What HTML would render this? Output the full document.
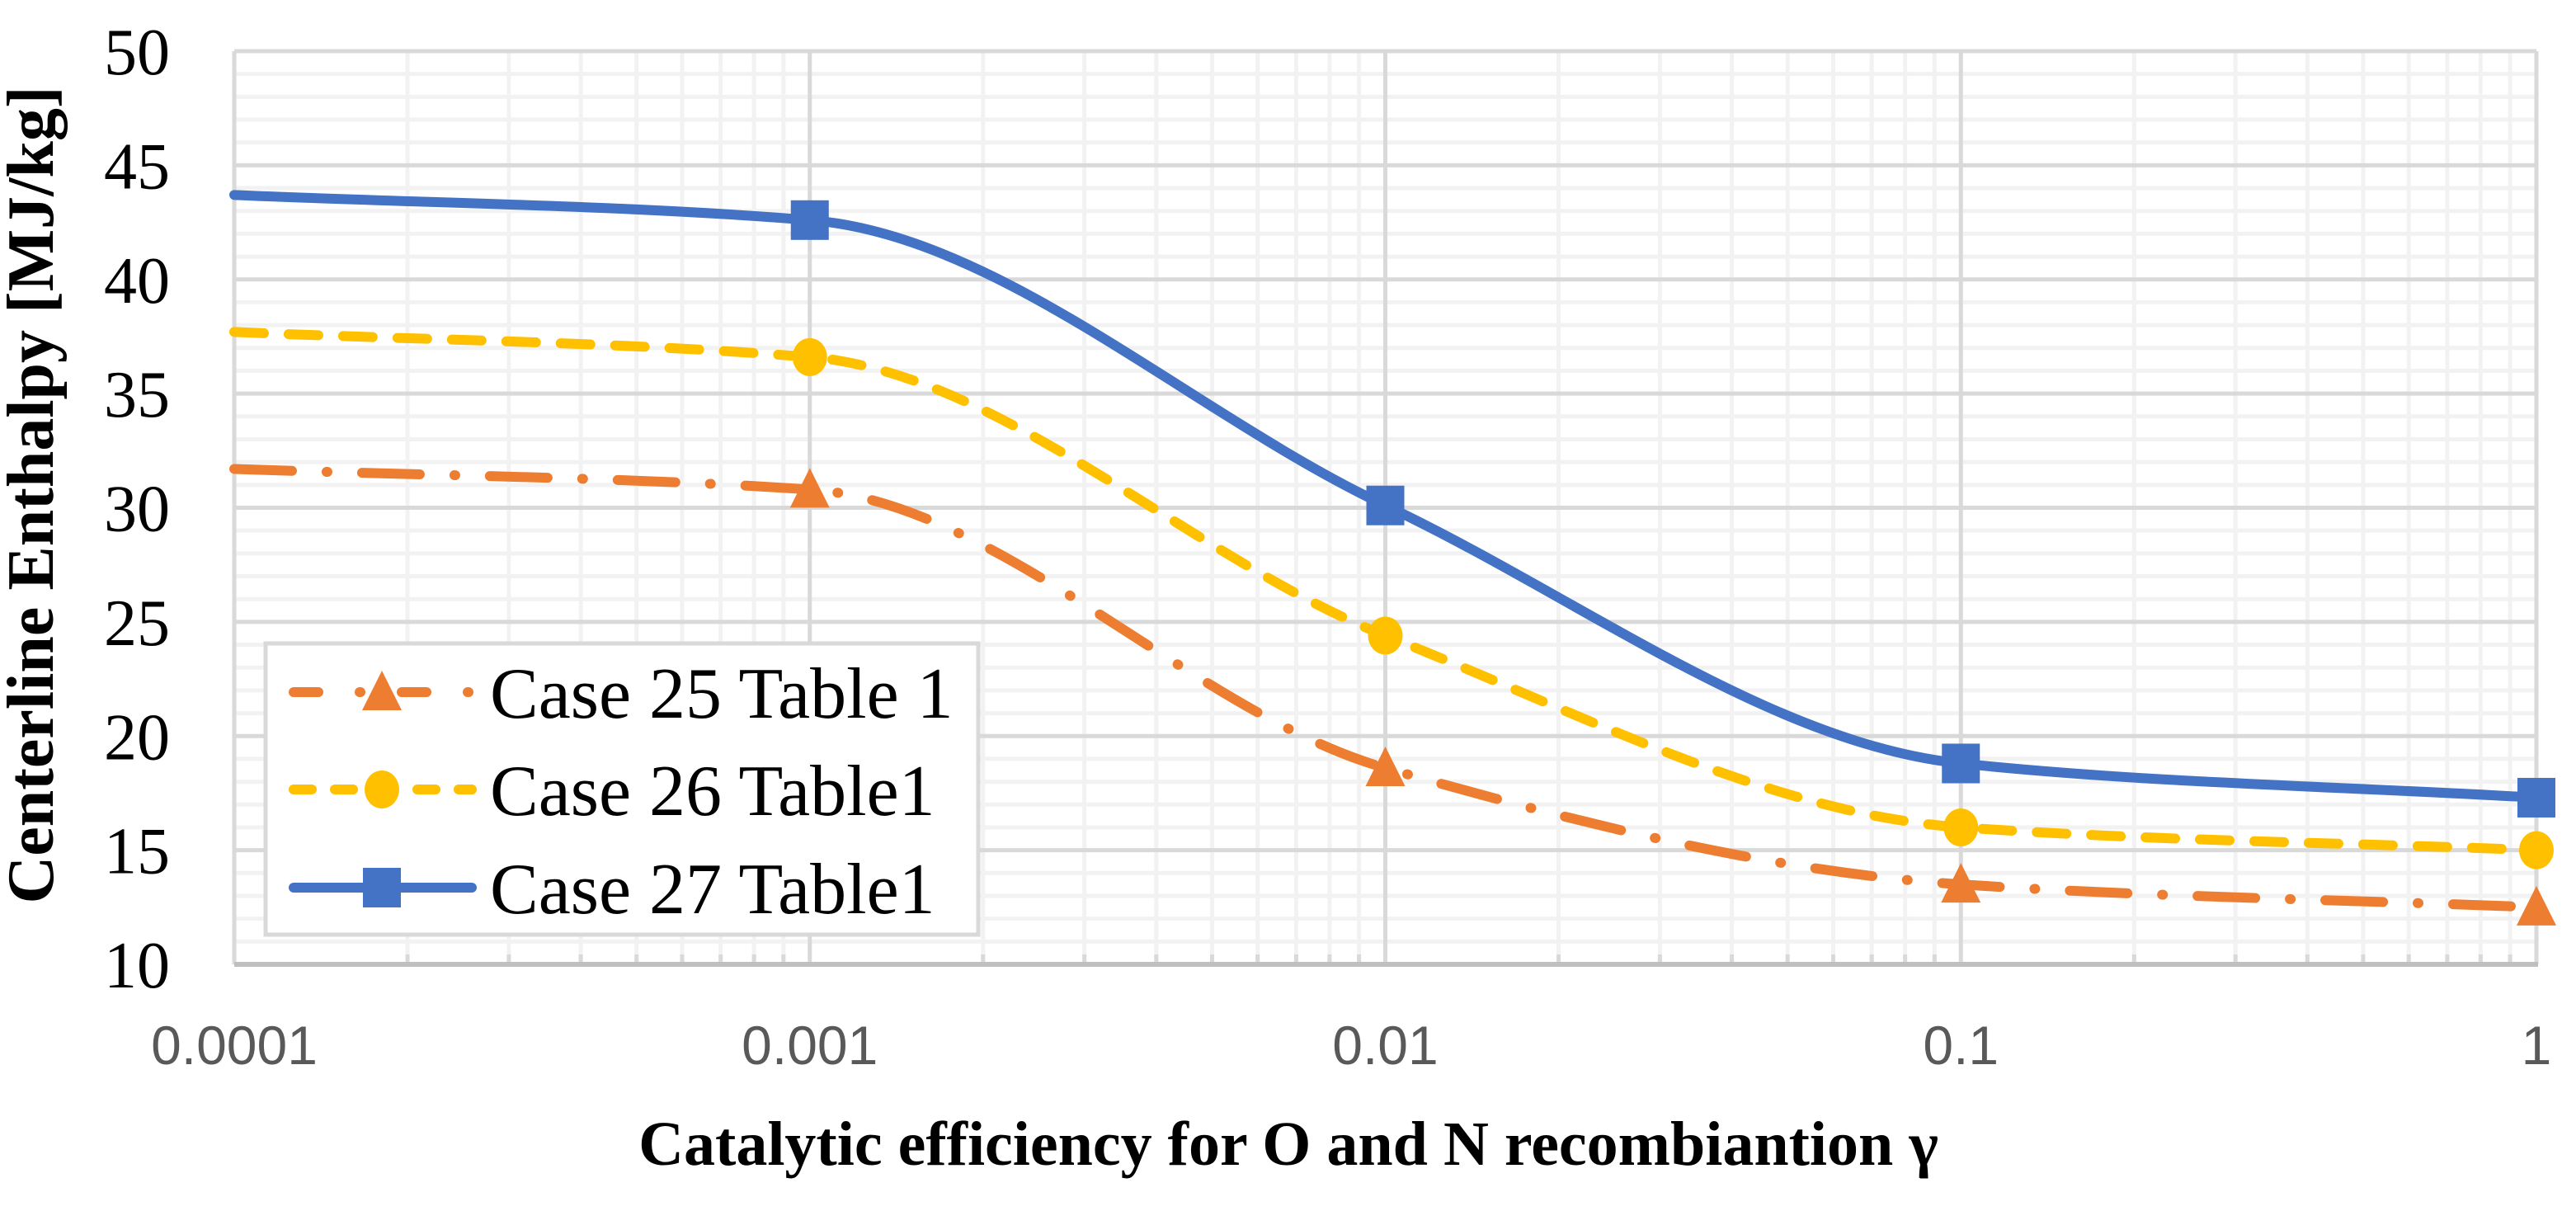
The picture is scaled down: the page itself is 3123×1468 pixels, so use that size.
<!DOCTYPE html>
<html><head><meta charset="utf-8">
<style>
html,body{margin:0;padding:0;background:#fff;}
svg{display:block;}
</style></head>
<body>
<svg id="chart" width="3123" height="1468" viewBox="0 0 3123 1468" xmlns="http://www.w3.org/2000/svg">
  <g id="grid"></g>
  <g id="series"></g>
  <g id="yticks"></g>
  <g id="xticks"></g>
  <text transform="translate(64,600) rotate(-90)" text-anchor="middle" font-family="Liberation Serif, serif" font-weight="bold" font-size="80" fill="#000">Centerline Enthalpy [MJ/kg]</text>
  <text x="1562" y="1412" text-anchor="middle" font-family="Liberation Serif, serif" font-weight="bold" font-size="76" fill="#000">Catalytic efficiency for O and N recombiantion γ</text>
  <g id="legend">
    <rect x="322" y="780" width="864" height="353" fill="#fff" stroke="#d9d9d9" stroke-width="5"/>
  </g>
</svg>
<script>
const xValues = [0.0001, 0.001, 0.01, 0.1, 1];
const case25 = [31.7, 30.8, 18.6, 13.5, 12.5];
const case26 = [37.7, 36.6, 24.4, 16.0, 15.0];
const case27 = [43.7, 42.6, 30.1, 18.8, 17.3];
const seriesNames = ["Case 25 Table 1", "Case 26 Table1", "Case 27 Table1"];
const yTickLabels = ["10","15","20","25","30","35","40","45","50"];
const xTickLabels = ["0.0001","0.001","0.01","0.1","1"];

const NS = "http://www.w3.org/2000/svg";
const L = 284, R = 3075, T = 62, B = 1169;
const yMin = 10, yMax = 50, xMinLog = -4, xMaxLog = 0;
function xs(v){ return L + (Math.log10(v) - xMinLog) / (xMaxLog - xMinLog) * (R - L); }
function ys(v){ return B - (v - yMin) / (yMax - yMin) * (B - T); }
function mk(tag, attrs, parent){ const e = document.createElementNS(NS, tag); for (const k in attrs) e.setAttribute(k, attrs[k]); parent.appendChild(e); return e; }

const grid = document.getElementById('grid');
for (let v = yMin; v <= yMax; v++) {
  if (v % 5 === 0) continue;
  const l = mk('line', {x1:L, x2:R, y1:ys(v), y2:ys(v), stroke:'#f2f2f2', 'stroke-width':5}, grid);
  
  
}
for (let d = xMinLog; d < xMaxLog; d++) {
  for (let m = 2; m <= 9; m++) {
    const x = xs(m * Math.pow(10, d));
    const l = mk('line', {x1:x, x2:x, y1:T, y2:B, stroke:'#f2f2f2', 'stroke-width':5}, grid);
    
    
    const t = mk('line', {x1:x, x2:x, y1:B-12, y2:B, stroke:'#d9d9d9', 'stroke-width':5}, grid);
    
    
  }
}
for (let v = yMin; v <= yMax; v += 5) {
  const l = mk('line', {x1:L, x2:R, y1:ys(v), y2:ys(v), stroke:'#d9d9d9', 'stroke-width':5}, grid);
  
  
}
for (let d = xMinLog; d <= xMaxLog; d++) {
  const x = xs(Math.pow(10, d));
  const l = mk('line', {x1:x, x2:x, y1:T, y2:B, stroke:'#d9d9d9', 'stroke-width':5}, grid);
  
  
}
const axis = mk('line', {x1:L, x2:R+2, y1:B, y2:B, stroke:'#bfbfbf', 'stroke-width':6}, grid);



const yt = document.getElementById('yticks');
yTickLabels.forEach(s => {
  const t = mk('text', {x:206, y:ys(+s)+28, 'text-anchor':'end', 'font-family':'Liberation Serif, serif', 'font-size':80, fill:'#000'}, yt);
  t.textContent = s;
  
  
});
const xt = document.getElementById('xticks');
xTickLabels.forEach(s => {
  const t = mk('text', {x:xs(+s), y:1290, 'text-anchor':'middle', 'font-family':'Liberation Sans, sans-serif', 'font-size':66, fill:'#595959'}, xt);
  t.textContent = s;
  
  
});

// monotone cubic (Fritsch-Carlson) path through points
function smoothPath(vals){
  const p = xValues.map((x,i)=>[xs(x), ys(vals[i])]);
  const n = p.length, dx = [], sl = [], m = [];
  for (let i = 0; i < n-1; i++) { dx[i] = p[i+1][0]-p[i][0]; sl[i] = (p[i+1][1]-p[i][1])/dx[i]; }
  m[0] = sl[0]; m[n-1] = sl[n-2];
  for (let i = 1; i < n-1; i++) {
    if (sl[i-1]*sl[i] <= 0) m[i] = 0;
    else { const w1 = 2*dx[i]+dx[i-1], w2 = dx[i]+2*dx[i-1]; m[i] = (w1+w2)/(w1/sl[i-1]+w2/sl[i]); }
  }
  let d = `M${p[0][0]},${p[0][1]}`;
  for (let i = 0; i < n-1; i++) {
    const h = dx[i]/3;
    d += ` C${p[i][0]+h},${p[i][1]+m[i]*h} ${p[i+1][0]-h},${p[i+1][1]-m[i+1]*h} ${p[i+1][0]},${p[i+1][1]}`;
  }
  return d;
}
function marker(g, type, cx, cy, color){
  if (type === 'square') return mk('rect', {x:cx-23, y:cy-24, width:46, height:48, fill:color}, g);
  if (type === 'circle') return mk('ellipse', {cx:cx, cy:cy, rx:21, ry:23, fill:color}, g);
  return mk('polygon', {points:`${cx},${cy-26} ${cx+24},${cy+22} ${cx-24},${cy+22}`, fill:color}, g);
}
const cfg = [
  {vals:case25, color:'#ed7d31', dash:'70 42 1 42', mk:'triangle', name:'case-25'},
  {vals:case26, color:'#ffc000', dash:'36 30', mk:'circle', name:'case-26'},
  {vals:case27, color:'#4472c4', dash:null, mk:'square', name:'case-27'}
];
const sg = document.getElementById('series');
cfg.forEach(c => {
  const g = mk('g', {}, sg);
  
  
  const a = {d:smoothPath(c.vals), fill:'none', stroke:c.color, 'stroke-width':12, 'stroke-linecap':'round'};
  if (c.dash) a['stroke-dasharray'] = c.dash;
  const path = mk('path', a, g);
  
  
  xValues.forEach((x,i) => {
    if (i === 0) return;
    const m = marker(g, c.mk, xs(x), ys(c.vals[i]), c.color);
    
    
  });
});

const lg = document.getElementById('legend');
const rows = [839, 957, 1076];
cfg.forEach((c,i) => {
  const y = rows[i];
  const la = {x1:356, x2:572, y1:y, y2:y, stroke:c.color, 'stroke-width':12, 'stroke-linecap':'round'};
  if (c.dash) la['stroke-dasharray'] = c.dash === '36 30' ? '22 28' : '30 50 1 50';
  const ln = mk('line', la, lg);
  
  
  const m = marker(lg, c.mk, 463, y, c.color);
  
  
  const t = mk('text', {x:594, y:y+31, 'font-family':'Liberation Serif, serif', 'font-size':88, fill:'#000'}, lg);
  t.textContent = seriesNames[i];
  
  
});
</script>
</body></html>
